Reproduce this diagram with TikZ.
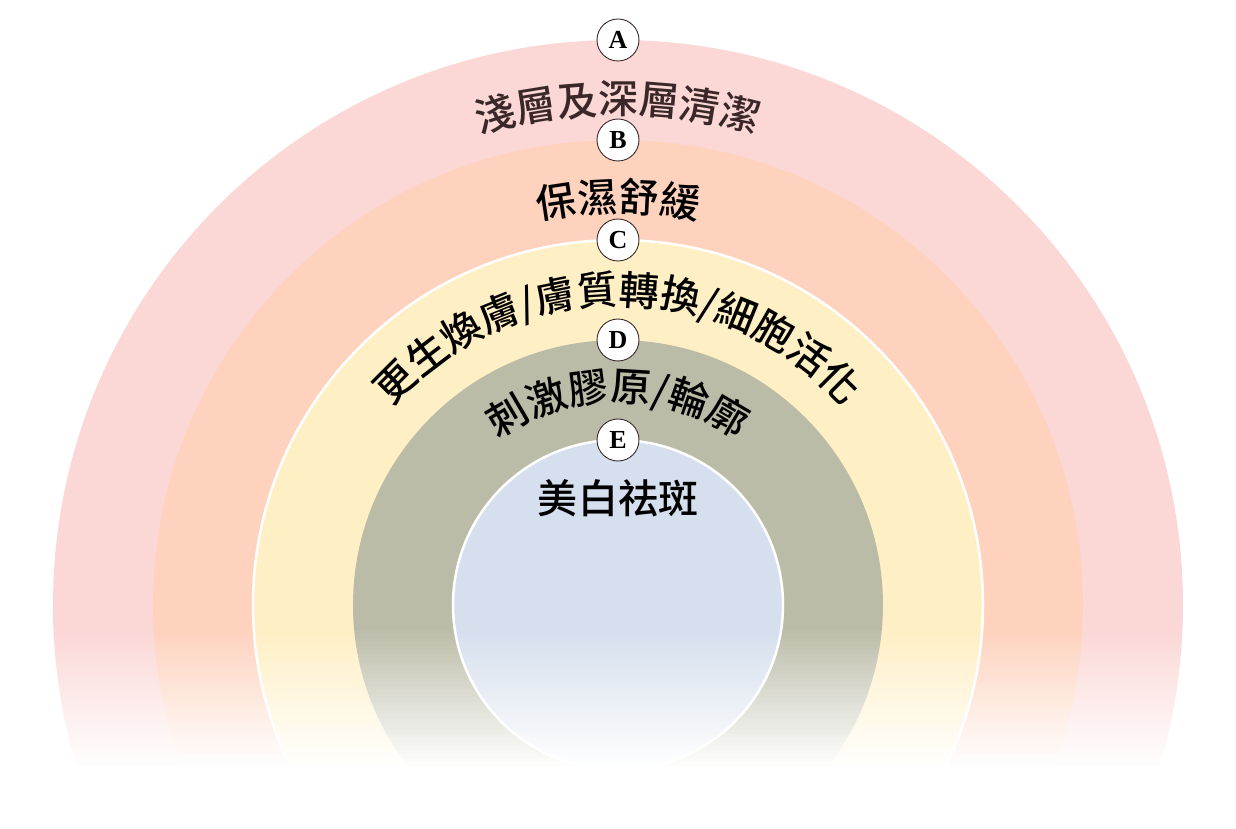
\documentclass[tikz,border=0pt]{standalone}
\usepackage{fontspec}
\setmainfont{Liberation Serif}
\newfontfamily\cjkfont{Noto Sans CJK TC Medium}
\usepackage{xcolor}
\definecolor{ringA}{HTML}{FBD7D6}
\definecolor{ringB}{HTML}{FED2BD}
\definecolor{ringC}{HTML}{FFEFC4}
\definecolor{ringD}{HTML}{BBBCA8}
\definecolor{ringE}{HTML}{D5DFED}
\definecolor{inkA}{HTML}{3A2828}
\definecolor{lblEdge}{HTML}{3A2A2A}
\usetikzlibrary{decorations.text}
\tikzset{
  lbl/.style={circle, draw=lblEdge, fill=white, line width=0.9pt, minimum size=42pt, inner sep=0pt, font=\bfseries\fontsize{26}{26}\selectfont},
  arctext/.style={decorate, decoration={text along path, text align=center, text={#1}}}
}

\begin{document}
\begin{tikzpicture}[x=1pt, y=1pt]
  \useasboundingbox (-618,-223) rectangle (618,605);
  \fill[ringA] (0,0) circle[radius=565pt];
  \fill[ringB] (0,0) circle[radius=465pt];
  \path[fill=ringC, draw=white, line width=2.5pt] (0,0) circle[radius=365pt];
  \fill[ringD] (0,0) circle[radius=265pt];
  \path[fill=ringE, draw=white, line width=2.5pt] (0,0) circle[radius=165pt];
  \path[arctext={|\cjkfont\fontsize{40}{40}\selectfont\color{inkA}|淺層及深層清潔}] (-491,0) arc[start angle=180, end angle=0, radius=491pt];
  \path[arctext={|\cjkfont\fontsize{40}{40}\selectfont|保濕舒緩}] (-393,0) arc[start angle=180, end angle=0, radius=393pt];
  \path[arctext={|\cjkfont\fontsize{40}{40}\selectfont|更生煥膚/膚質轉換/細胞活化}] (-300,0) arc[start angle=180, end angle=0, radius=300pt];
  \path[arctext={|\cjkfont\fontsize{40}{40}\selectfont|刺激膠原/輪廓}] (-204,0) arc[start angle=180, end angle=0, radius=204pt];
  \node[font=\cjkfont\fontsize{40}{40}\selectfont] (txtE) at (0,107) {美白祛斑};
  \foreach \i in {0,...,34}
    \fill[white, opacity=(\i+1)/35] (-640,-25-4*\i) rectangle (640,-29-4*\i);
  \fill[white] (-640,-165) rectangle (640,-240);
  \node[lbl] (lblA) at (0,565) {A};
  \node[lbl] (lblB) at (0,465) {B};
  \node[lbl] (lblC) at (0,365) {C};
  \node[lbl] (lblD) at (0,265) {D};
  \node[lbl] (lblE) at (0,165) {E};
\end{tikzpicture}
\end{document}
